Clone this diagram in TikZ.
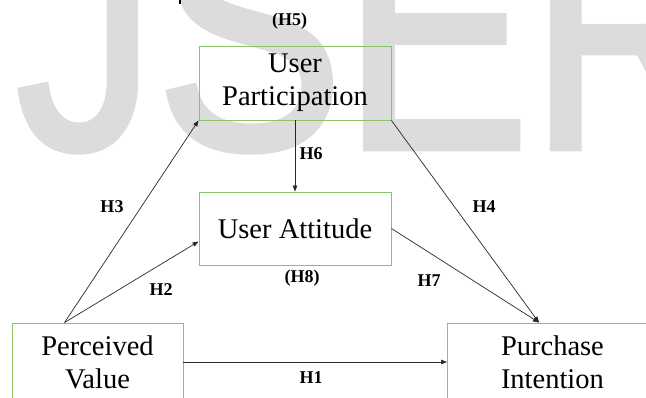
\documentclass[tikz,border=0pt]{standalone}
\usepackage{fontspec}
\setmainfont{Liberation Serif}
\newfontfamily\wmfont{Liberation Sans}[FakeBold=2]
\usetikzlibrary{arrows.meta,positioning}
\definecolor{boxgreen}{RGB}{140,195,100}
\definecolor{wmgray}{RGB}{220,220,220}
\definecolor{linkgray}{RGB}{40,40,40}

\begin{document}
\begin{tikzpicture}[x=1pt, y=-1pt,
  varbox/.style = {draw=boxgreen, line width=0.9pt, inner sep=0pt,
    align=center, font=\fontsize{28.5}{33}\selectfont},
  hyp/.style = {anchor=base, inner sep=0pt,
    font=\fontsize{18}{20}\selectfont\bfseries},
  link/.style = {draw=linkgray, line width=0.7pt,
    -{Triangle[length=6pt,width=4.5pt]}}
  ]
  \clip (0,0) rectangle (646,398);
  % watermark behind everything
  \node[anchor=base west, inner sep=0pt, text=wmgray] (mark) at (16,148)
    {\scalebox{1}[1.2]{\fontsize{280}{280}\wmfont JSER}};
  \fill (179.3,0) rectangle (180.7,4);
  % the four variables
  \node[varbox, minimum width=192, minimum height=74] (up) at (295,83)
    {User\\Participation};
  \node[varbox, minimum width=192, minimum height=73] (ua) at (295,228.5)
    {User Attitude};
  \node[varbox, minimum width=171, minimum height=78] (pv) at (97.5,362)
    {Perceived\\Value};
  \node[varbox, anchor=west, minimum width=210, minimum height=78] (pi) at (447,362)
    {Purchase\\Intention};
  % where the slanted links meet the boxes
  \coordinate (pvtop) at ([xshift=53]pv.north west);
  \coordinate (pitop) at ([xshift=92]pi.north west);
  % hypotheses
  \draw[link] (pv.east) -- (pi.west);
  \draw[link] (pvtop) -- ([yshift=-13]ua.west);
  \draw[link] (pvtop) -- (up.south west);
  \draw[link] (up.south east) -- (pitop);
  \draw[link] (up.south) -- (ua.north);
  \draw[link] (ua.east) -- (pitop);
  % labels
  \node[hyp] (h1) at (311,383.3) {H1};
  \node[hyp] (h2) at (161,296) {H2};
  \node[hyp] (h3) at (112,212.7) {H3};
  \node[hyp] (h4) at (484,212.7) {H4};
  \node[hyp] (h5) at (289.5,26) {(H5)};
  \node[hyp] (h6) at (311,159.3) {H6};
  \node[hyp] (h7) at (429,286.7) {H7};
  \node[hyp] (h8) at (302,283) {(H8)};
\end{tikzpicture}
\end{document}
